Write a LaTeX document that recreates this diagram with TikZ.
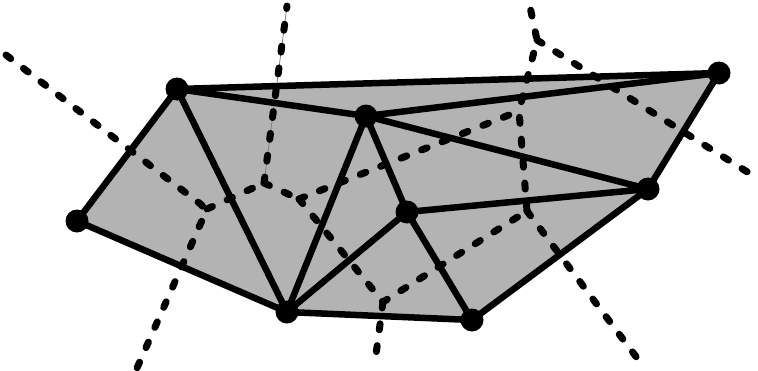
\documentclass[tikz,border=0pt]{standalone}
\usetikzlibrary{backgrounds}
\definecolor{hullgray}{RGB}{179,179,179}
\tikzset{
  dot/.style={circle,fill=black,inner sep=0pt,minimum size=23pt},
  deledge/.style={line width=6.5pt,line cap=round,line join=round},
  voredge/.style={line width=7pt,line cap=round,dash pattern=on 6pt off 16pt},
  thinray/.style={line width=0.8pt,draw=gray}
}
\begin{document}
\begin{tikzpicture}[x=1pt,y=-1pt]
\path[use as bounding box] (0,0) rectangle (758,370);
% Delaunay vertices
\node[dot] (A) at (77,221) {};
\node[dot] (B) at (177,89) {};
\node[dot] (C) at (366,116) {};
\node[dot] (D) at (719,73) {};
\node[dot] (E) at (648,189) {};
\node[dot] (F) at (407,212) {};
\node[dot] (G) at (287,312) {};
\node[dot] (H) at (472,320) {};
% Voronoi vertices and ray ends
\coordinate (V1) at (207,209);
\coordinate (V2) at (264,183);
\coordinate (V3) at (299,199);
\coordinate (V5) at (383,302);
\coordinate (V6) at (519,111);
\coordinate (V7) at (537,40);
\coordinate (V8) at (527,211);
\coordinate (R1) at (6,55);
\coordinate (R2) at (137,368);
\coordinate (R3) at (287,6);
\coordinate (R4) at (375,362);
\coordinate (R5) at (529,2);
\coordinate (R6) at (757,178);
\coordinate (R7) at (640,362);
\begin{pgfonlayer}{background}
\fill[hullgray] (A.center) -- (B.center) -- (D.center) -- (E.center) -- (H.center) -- (G.center) -- cycle;
\draw[thinray] (V2) -- (R3);
\draw[voredge,rounded corners=8pt] (R1) -- (V1) -- (R2);
\draw[voredge] (V1) -- (V2);
\draw[voredge] (V2) -- (R3);
\draw[voredge] (V2) -- (V3);
\draw[voredge] (V3) -- (V6);
\draw[voredge] (V3) -- (V5) -- (V8);
\draw[voredge] (V5) -- (R4);
\draw[voredge] (V8) -- (V6) -- (V7) -- (R5);
\draw[voredge] (V7) -- (R6);
\draw[voredge] (V8) -- (R7);
\draw[deledge] (A.center) -- (B.center) -- (D.center) -- (E.center) -- (H.center) -- (G.center) -- cycle;
\draw[deledge] (B.center) -- (C.center) -- (D.center);
\draw[deledge] (B.center) -- (G.center) -- (C.center) -- (E.center) -- (F.center) -- (C.center);
\draw[deledge] (G.center) -- (F.center) -- (H.center);
\end{pgfonlayer}
\end{tikzpicture}
\end{document}
